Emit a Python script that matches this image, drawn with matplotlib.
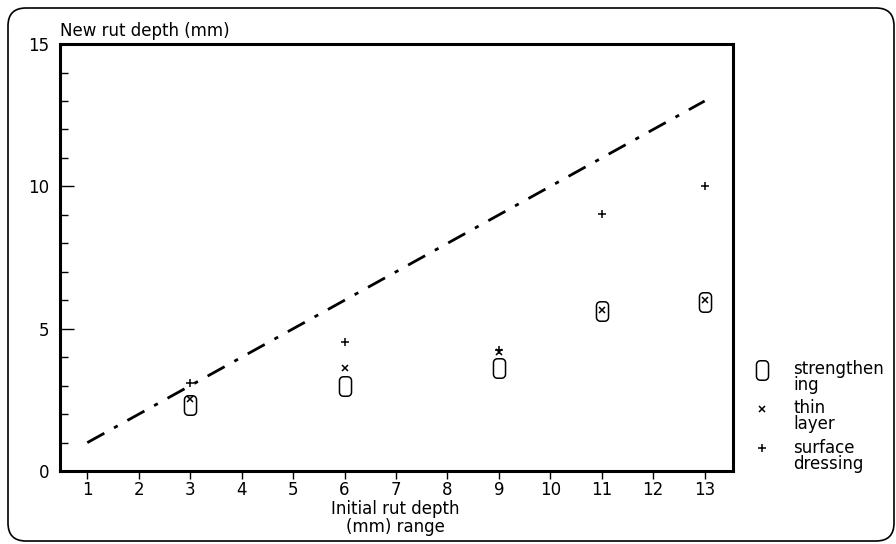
import matplotlib

matplotlib.use("Agg")
import matplotlib.pyplot as plt
import numpy as np
from matplotlib.path import Path
from matplotlib.patches import FancyBboxPatch

# data
fit_x = [1, 13]
fit_y = [1, 13]

strength_x = [3, 6, 9, 11, 13]
strength_y = [2.32, 2.98, 3.62, 5.62, 5.95]

thin_x = [3, 6, 9, 11, 13]
thin_y = [2.53, 3.62, 4.18, 5.65, 6.0]

surface_x = [3, 6, 9, 11, 13]
surface_y = [3.1, 4.53, 4.25, 9.03, 10.0]

x_ticks = list(range(1, 14))
y_major = [0, 5, 10, 15]
y_minor = list(range(0, 16))

legend_labels = ["strengthen\ning", "thin\nlayer", "surface\ndressing"]


def rounded_rect_marker(w=0.62, h=1.0, r=0.2, n=8):
    pts = []
    corners = [(w / 2 - r, h / 2 - r, 0), (-w / 2 + r, h / 2 - r, 90),
               (-w / 2 + r, -h / 2 + r, 180), (w / 2 - r, -h / 2 + r, 270)]
    for cx, cy, a0 in corners:
        for t in np.linspace(np.radians(a0), np.radians(a0 + 90), n):
            pts.append((cx + r * np.cos(t), cy + r * np.sin(t)))
    pts.append(pts[0])
    codes = [Path.MOVETO] + [Path.LINETO] * (len(pts) - 2) + [Path.CLOSEPOLY]
    return Path(pts, codes)


box = rounded_rect_marker()
plt.rcParams["font.family"] = "DejaVu Sans"
fs = 12

fig = plt.figure(figsize=(8.96, 5.44), dpi=100)
ax = fig.add_axes([0.067, 0.134, 0.751, 0.785])

ax.plot(fit_x, fit_y, color="black", lw=2, dashes=(7, 4, 1.5, 4))
ax.plot(strength_x, strength_y, ls="none", marker=box, ms=14,
        mfc="none", mec="black", mew=1.1)
ax.plot(thin_x, thin_y, ls="none", marker="x", ms=4.5, mec="black", mew=1.1)
ax.plot(surface_x, surface_y, ls="none", marker="+", ms=5.5, mec="black", mew=1.1)

ax.set_xlim(0.47, 13.55)
ax.set_ylim(0, 15)
for s in ax.spines.values():
    s.set_linewidth(2.2)

ax.set_xticks(x_ticks)
ax.set_xticklabels([str(v) for v in x_ticks], fontsize=fs)
ax.tick_params(axis="x", direction="out", length=6, width=1, pad=1)
ax.set_yticks(y_major)
ax.set_yticklabels([str(v) for v in y_major], fontsize=fs)
ax.set_yticks(y_minor, minor=True)
ax.tick_params(axis="y", which="major", direction="in", length=10, width=1, pad=8)
ax.tick_params(axis="y", which="minor", direction="in", length=6, width=1)

fig.text(60 / 896, 1 - 31 / 544, "New rut depth (mm)", fontsize=fs,
         ha="left", va="center")
fig.text(395 / 896, 1 - 518 / 544, "Initial rut depth\n(mm) range", fontsize=fs,
         ha="center", va="center", linespacing=0.95)

# legend drawn in figure coordinates
leg_marks = [(box, 14, 1 - 370 / 544), ("x", 4.5, 1 - 409 / 544), ("+", 5.5, 1 - 448 / 544)]
leg_text_y = [1 - 377 / 544, 1 - 416 / 544, 1 - 456 / 544]
for (m, ms, yy), label, ty in zip(leg_marks, legend_labels, leg_text_y):
    fig.lines.append(matplotlib.lines.Line2D([762 / 896], [yy], marker=m, ms=ms,
                                             mfc="none", mec="black", mew=1.1,
                                             ls="none", transform=fig.transFigure))
    fig.text(793 / 896, ty, label, fontsize=fs, ha="left", va="center",
             linespacing=0.9)

frame = FancyBboxPatch((8 / 896, 3 / 544), 886 / 896, 533 / 544,
                       boxstyle="round,pad=0,rounding_size=0.02",
                       transform=fig.transFigure, fill=False, lw=1.2,
                       ec="black", mutation_aspect=896 / 544)
fig.patches.append(frame)

fig.savefig("out.png", dpi=100)
